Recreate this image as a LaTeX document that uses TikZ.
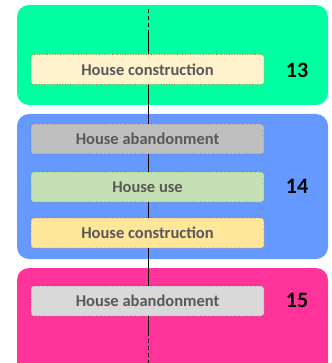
\documentclass[tikz,border=0pt]{standalone}
\usepackage{fontspec}
\setmainfont{Carlito}
\definecolor{grpA}{RGB}{0,255,160}
\definecolor{grpB}{RGB}{102,153,255}
\definecolor{grpC}{RGB}{255,51,153}
\definecolor{fillCons}{RGB}{255,242,204}
\definecolor{fillCons2}{RGB}{255,230,153}
\definecolor{fillAb}{RGB}{191,191,191}
\definecolor{fillAb2}{RGB}{217,217,217}
\definecolor{fillUse}{RGB}{197,224,180}
\definecolor{txtgrey}{RGB}{89,89,89}
\tikzset{
  phase/.style={draw=#1!75!black, dotted, line width=0.6pt, rounded corners=3pt,
    minimum width=233pt, minimum height=30pt, inner sep=0pt,
    font=\fontsize{16.5}{19}\selectfont\bfseries, text=txtgrey},
  grp/.style={rounded corners=12pt},
  num/.style={font=\fontsize{22}{26}\selectfont\bfseries, text=black},
  axis/.style={line width=0.8pt, black},
  axisdash/.style={axis, dash pattern=on 4pt off 3pt},
}
\begin{document}
\begin{tikzpicture}[x=1pt,y=-1pt]
\useasboundingbox (0,0) rectangle (331,363);
\clip (0,0) rectangle (331,363);
\fill[grpA,grp] (17,5) rectangle (328,105);
\fill[grpB,grp] (17,114) rectangle (328,259);
\fill[grpC,grp] (17,268) rectangle (328,390);
\coordinate (top) at (148,9);
\coordinate (topd) at (148,33);
\coordinate (bot) at (148,363);
\coordinate (botd) at (148,332);
\node[phase=orange, fill=fillCons] (c1) at (147.5,69.5) {House construction};
\node[phase=gray, fill=fillAb] (a1) at (147.5,139) {House abandonment};
\node[phase=green, fill=fillUse] (u1) at (147.5,187) {House use};
\node[phase=orange, fill=fillCons2] (c2) at (147.5,233) {House construction};
\node[phase=gray, fill=fillAb2] (a2) at (147.5,301) {House abandonment};
\node[num] (n13) at (297,70) {13};
\node[num] (n14) at (297,186) {14};
\node[num] (n15) at (297,300) {15};
\draw[axisdash] (top) -- (topd);
\draw[axis] (topd) -- (c1.north -| topd);
\draw[axis] (c1.south -| topd) -- (a1.north -| topd);
\draw[axis] (a1.south -| topd) -- (u1.north -| topd);
\draw[axis] (u1.south -| topd) -- (c2.north -| topd);
\draw[axis] (c2.south -| topd) -- (a2.north -| topd);
\draw[axis] (a2.south -| topd) -- (botd);
\draw[axisdash] (botd) -- (bot);
\end{tikzpicture}
\end{document}
